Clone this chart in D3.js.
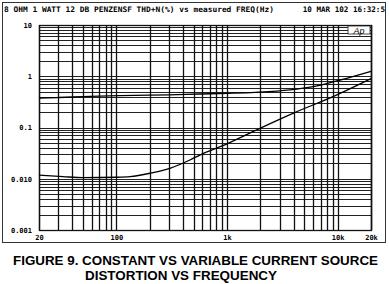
<!DOCTYPE html>
<html><head><meta charset="utf-8">
<script src="https://cdn.jsdelivr.net/npm/d3@7"></script>
<style>body{margin:0;background:#fff}svg{display:block}</style>
</head><body>
<script>
const headerLeft = "8 OHM 1 WATT 12 DB PENZENSF THD+N(%) vs measured FREQ(Hz)";
const headerRight = "10 MAR 102 16:32:5";
const caption = ["FIGURE 9. CONSTANT VS VARIABLE CURRENT SOURCE", "DISTORTION VS FREQUENCY"];
const xTickValues = [20, 100, 1000, 10000, 20000];
const xTickLabels = ["20", "100", "1k", "10k", "20k"];
const yTickValues = [10, 1, 0.1, 0.01, 0.001];
const yTickLabels = ["10", "1", "0.1", "0.010", "0.001"];
// upper curve (constant source)
const freqA = [20, 30, 50, 107, 300, 569, 1000, 1800, 3700, 6000, 10500, 20000];
const thdA  = [0.376, 0.385, 0.40, 0.42, 0.435, 0.45, 0.465, 0.486, 0.54, 0.625, 0.845, 1.25];
// lower curve (variable source)
const freqB = [20, 33, 50, 101, 133, 201, 305, 462, 569, 1000, 1983, 3940, 9060, 20000];
const thdB  = [0.0118, 0.0110, 0.0105, 0.0107, 0.0110, 0.0128, 0.016, 0.0232, 0.029, 0.048, 0.0964, 0.189, 0.40, 0.90];

const W = 389, H = 284;
const svg = d3.select("body").append("svg").attr("width", W).attr("height", H);
const L = 39, R = 371, T = 25, B = 230;
const x = d3.scaleLog().domain([20, 20000]).range([L, R]);
const y = d3.scaleLog().domain([0.001, 10]).range([B, T]);

// scan frame
svg.append("rect").attr("x", 2.5).attr("y", 2.5).attr("width", 383).attr("height", 240)
  .attr("fill", "none").attr("stroke", "#333").attr("stroke-width", 1);

const mono = "'DejaVu Sans Mono', monospace";
svg.append("text").attr("x", 4).attr("y", 12).attr("font-family", mono).attr("font-weight", "bold")
  .attr("font-size", 7.6).attr("textLength", 270).attr("lengthAdjust", "spacingAndGlyphs").text(headerLeft);
svg.append("text").attr("x", 385).attr("y", 12).attr("text-anchor", "end").attr("font-family", mono)
  .attr("font-weight", "bold").attr("font-size", 7.6).text(headerRight);

// grid
const g = svg.append("g");
const xGrid = [];
for (let d = 10; d <= 10000; d *= 10) for (let k = 1; k <= 9; k++) { const v = d * k; if (v >= 20 && v <= 20000) xGrid.push(v); }
xGrid.push(20000);
const yGrid = [];
for (let d = 0.001; d < 10; d *= 10) for (let k = 1; k <= 9; k++) yGrid.push(d * k);
yGrid.push(10);
g.selectAll(".hg").data(yGrid).join("line").attr("x1", L).attr("x2", R)
  .attr("y1", d => Math.round(y(d)) + 0.5).attr("y2", d => Math.round(y(d)) + 0.5)
  .attr("stroke", "#222").attr("stroke-width", 1);
g.selectAll(".vg").data(xGrid).join("line").attr("y1", T).attr("y2", B)
  .attr("x1", d => Math.round(x(d)) + 0.5).attr("x2", d => Math.round(x(d)) + 0.5)
  .attr("stroke", "#111").attr("stroke-width", 1.3);
g.append("rect").attr("x", L + 0.5).attr("y", T + 0.5).attr("width", R - L).attr("height", B - T)
  .attr("fill", "none").attr("stroke", "#111").attr("stroke-width", 1.3);

// axes labels
const xAxis = d3.axisBottom(x).tickValues(xTickValues).tickSize(0).tickFormat((d, i) => xTickLabels[i]);
const xa = svg.append("g").attr("transform", `translate(0,${B + 2})`).call(xAxis);
xa.select(".domain").remove();
xa.selectAll("text").attr("font-family", mono).attr("font-weight", "bold").attr("font-size", 7).attr("fill", "#000");
const yAxis = d3.axisLeft(y).tickValues(yTickValues).tickSize(0).tickFormat((d, i) => yTickLabels[i]);
const ya = svg.append("g").attr("transform", `translate(${L - 4},0)`).call(yAxis);
ya.select(".domain").remove();
ya.selectAll("text").attr("font-family", mono).attr("font-weight", "bold").attr("font-size", 7).attr("fill", "#000");

// Ap logo
svg.append("rect").attr("x", 348).attr("y", 26).attr("width", 22).attr("height", 8).attr("fill", "#fff").attr("stroke", "#222").attr("stroke-width", 0.8);
svg.append("text").attr("x", 359).attr("y", 33.5).attr("text-anchor", "middle").attr("font-family", "'Liberation Sans', sans-serif")
  .attr("font-style", "italic").attr("font-size", 9).text("Ap");

// curves
const line = d3.line().x(d => x(d[0])).y(d => y(d[1])).curve(d3.curveMonotoneX);
svg.append("path").datum(freqA.map((f, i) => [f, thdA[i]])).attr("d", line)
  .attr("fill", "none").attr("stroke", "#000").attr("stroke-width", 1.3);
svg.append("path").datum(freqB.map((f, i) => [f, thdB[i]])).attr("d", line)
  .attr("fill", "none").attr("stroke", "#000").attr("stroke-width", 1.3);

// caption
const sans = "'Liberation Sans', Arial, sans-serif";
svg.append("text").attr("x", 13).attr("y", 264.5).attr("font-family", sans).attr("font-weight", "bold")
  .attr("font-size", 13).attr("textLength", 365).attr("lengthAdjust", "spacingAndGlyphs").text(caption[0]);
svg.append("text").attr("x", 85).attr("y", 280).attr("font-family", sans).attr("font-weight", "bold")
  .attr("font-size", 13).attr("textLength", 192).attr("lengthAdjust", "spacingAndGlyphs").text(caption[1]);
</script>
</body></html>
